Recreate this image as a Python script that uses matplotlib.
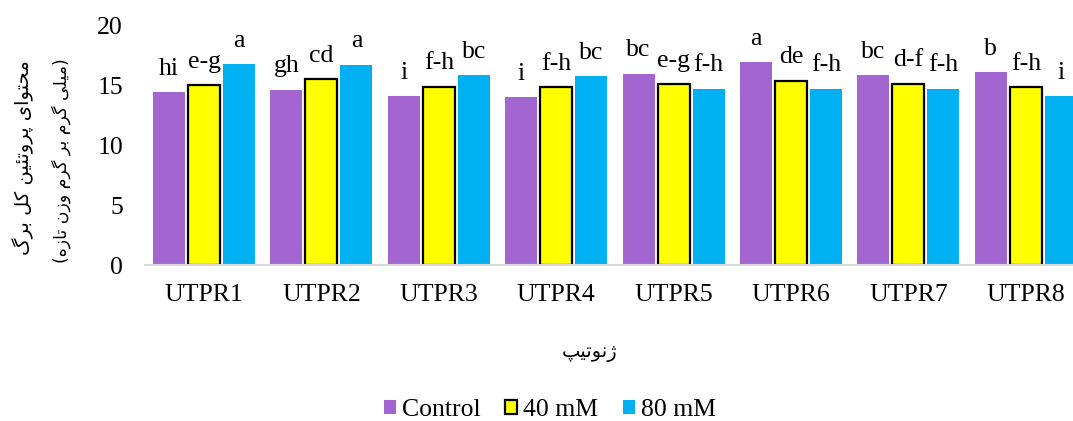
import matplotlib
matplotlib.use("Agg")
import matplotlib.pyplot as plt
import numpy as np

# ---------------- data ----------------
genotypes = ["UTPR1", "UTPR2", "UTPR3", "UTPR4", "UTPR5", "UTPR6", "UTPR7", "UTPR8"]
series_names = ["Control", "40 mM", "80 mM"]
control = [14.4, 14.6, 14.05, 14.0, 15.95, 16.9, 15.8, 16.05]
mm40 = [15.0, 15.5, 14.85, 14.8, 15.05, 15.35, 15.1, 14.8]
mm80 = [16.75, 16.7, 15.8, 15.75, 14.7, 14.7, 14.7, 14.05]
letters_control = ["hi", "gh", "i", "i", "bc", "a", "bc", "b"]
letters_40 = ["e-g", "cd", "f-h", "f-h", "e-g", "de", "d-f", "f-h"]
letters_80 = ["a", "a", "bc", "bc", "f-h", "f-h", "f-h", "i"]
y_ticks = [0, 5, 10, 15, 20]
ylabel_line1 = "محتوای پروتئین کل برگ"
ylabel_line2 = "(میلی گرم بر گرم وزن تازه)"
xlabel_text = "ژنوتیپ"

# ------------- minimal Persian shaping -------------
FORMS = {
    "\u0645": ("\uFEE1", "\uFEE2", "\uFEE3", "\uFEE4"),
    "\u062D": ("\uFEA1", "\uFEA2", "\uFEA3", "\uFEA4"),
    "\u062A": ("\uFE95", "\uFE96", "\uFE97", "\uFE98"),
    "\u0648": ("\uFEED", "\uFEEE", None, None),
    "\u0627": ("\uFE8D", "\uFE8E", None, None),
    "\u06CC": ("\uFBFC", "\uFBFD", "\uFBFE", "\uFBFF"),
    "\u067E": ("\uFB56", "\uFB57", "\uFB58", "\uFB59"),
    "\u0631": ("\uFEAD", "\uFEAE", None, None),
    "\u0626": ("\uFE89", "\uFE8A", "\uFE8B", "\uFE8C"),
    "\u0646": ("\uFEE5", "\uFEE6", "\uFEE7", "\uFEE8"),
    "\u06A9": ("\uFB8E", "\uFB8F", "\uFB90", "\uFB91"),
    "\u0644": ("\uFEDD", "\uFEDE", "\uFEDF", "\uFEE0"),
    "\u0628": ("\uFE8F", "\uFE90", "\uFE91", "\uFE92"),
    "\u06AF": ("\uFB92", "\uFB93", "\uFB94", "\uFB95"),
    "\u0632": ("\uFEAF", "\uFEB0", None, None),
    "\u0647": ("\uFEE9", "\uFEEA", "\uFEEB", "\uFEEC"),
    "\u0698": ("\uFB8A", "\uFB8B", None, None),
}


def shape(text):
    out = []
    n = len(text)
    for i, ch in enumerate(text):
        if ch not in FORMS:
            out.append(ch)
            continue
        iso, fin, ini, med = FORMS[ch]
        prev = text[i - 1] if i > 0 else None
        nxt = text[i + 1] if i < n - 1 else None
        prev_j = prev in FORMS and FORMS[prev][2] is not None
        next_j = nxt in FORMS and ini is not None
        if prev_j and next_j:
            out.append(med)
        elif prev_j:
            out.append(fin)
        elif next_j:
            out.append(ini)
        else:
            out.append(iso)
    vis = "".join(out)[::-1]
    vis = vis.translate(str.maketrans({"(": ")", ")": "("}))
    return vis


plt.rcParams["font.family"] = ["Liberation Serif", "DejaVu Sans"]

W, H = 1073, 421
fig = plt.figure(figsize=(W / 100, H / 100), dpi=100)
ax = fig.add_axes([145.3 / W, 1 - 265 / H, (1084.5 - 145.3) / W, 240 / H])

colors = ["#A366D1", "#FFFF00", "#00B0F0"]
x = np.arange(len(genotypes))
pitch = 0.298
bw = 0.272
series = [control, mm40, mm80]
labels = [letters_control, letters_40, letters_80]
for k, (vals, labs) in enumerate(zip(series, labels)):
    pos = x + (k - 1) * pitch
    kw = dict(edgecolor="black", linewidth=1.6) if k == 1 else dict(linewidth=0)
    bars = ax.bar(pos, vals, width=bw, color=colors[k], label=series_names[k],
                  zorder=2, **kw)
    for b, lab in zip(bars, labs):
        ax.annotate(lab, (b.get_x() + b.get_width() / 2, b.get_height()),
                    xytext=(0, 12.5), textcoords="offset points",
                    ha="center", va="baseline", fontsize=18.5)

ax.set_xlim(-0.5, len(genotypes) - 0.5)
ax.set_ylim(0, 20)
ax.set_yticks(y_ticks)
ax.set_xticks(x)
ax.set_xticklabels(genotypes)
ax.tick_params(axis="both", length=0, labelsize=18.5)
ax.tick_params(axis="x", pad=14)
ax.tick_params(axis="y", pad=16)
for s in ["top", "right", "left"]:
    ax.spines[s].set_visible(False)
ax.spines["bottom"].set_color("#D9D9D9")
ax.spines["bottom"].set_linewidth(1.5)

fig.text(23 / W, 1 - 158 / H, shape(ylabel_line1), rotation=90, ha="center",
         va="center", fontsize=14, family=["DejaVu Sans"])
fig.text(61 / W, 1 - 161 / H, shape(ylabel_line2), rotation=90, ha="center",
         va="center", fontsize=12.5, family=["DejaVu Sans"])
fig.text(590 / W, 1 - 352 / H, shape(xlabel_text), ha="center", va="center",
         fontsize=14, family=["DejaVu Sans"])

fig.legend(loc="center", bbox_to_anchor=(550 / W, 1 - 410 / H), ncol=3,
           frameon=False, fontsize=18.5, handlelength=0.46, handleheight=0.46,
           handletextpad=0.25, columnspacing=0.95, borderaxespad=0)

fig.savefig("out.png", dpi=100)
